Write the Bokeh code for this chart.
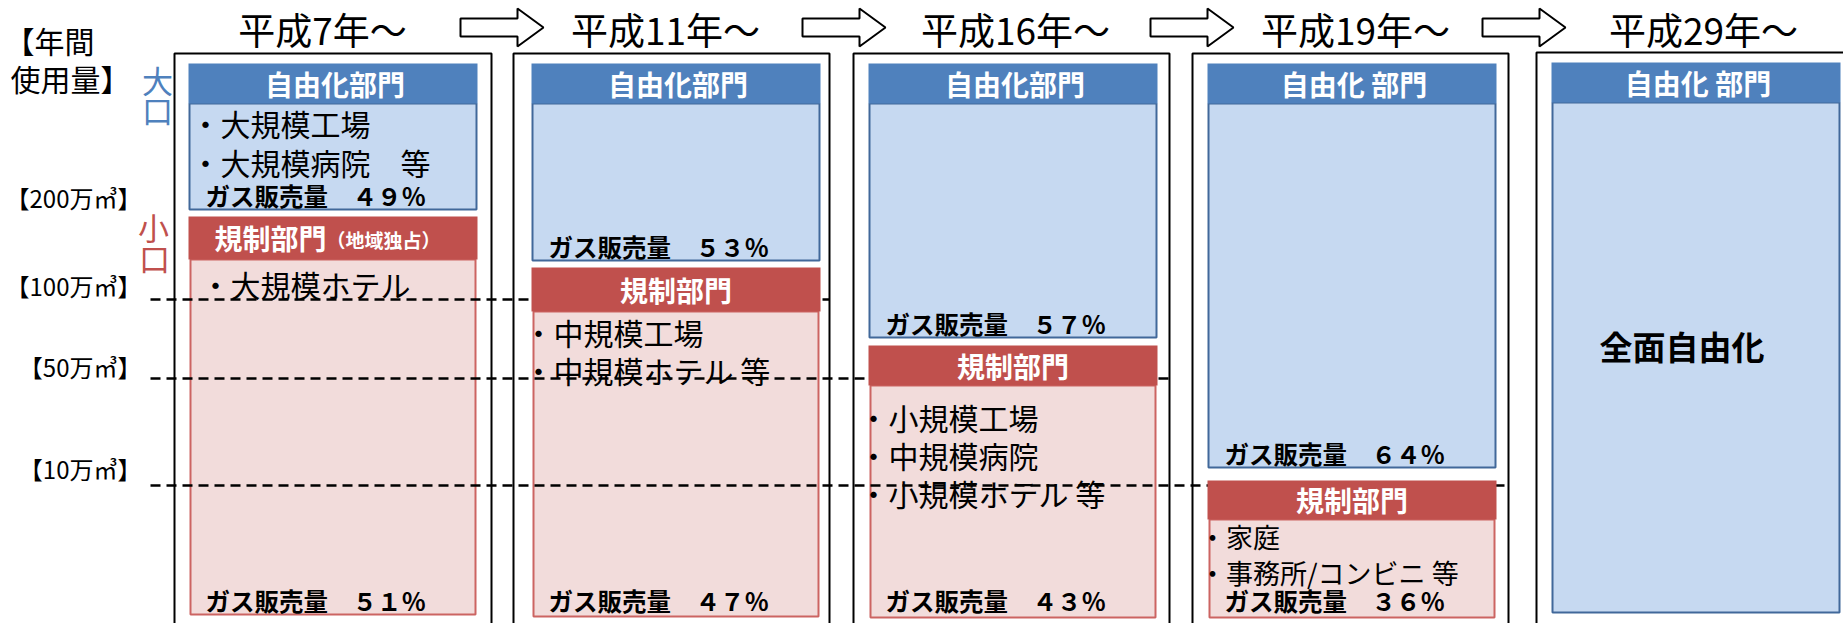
from bokeh.plotting import figure
from bokeh.models import Range1d
from bokeh.embed import file_html
from bokeh.resources import INLINE
from bokeh.core.properties import value

# ---------------- data ----------------
periods = ["平成7年～", "平成11年～", "平成16年～", "平成19年～", "平成29年～"]
lib_headers = ["自由化部門", "自由化部門", "自由化部門", "自由化 部門", "自由化 部門"]
reg_headers = ["規制部門", "規制部門", "規制部門", "規制部門"]
reg_header_note = "（地域独占）"
lib_share = [49, 53, 57, 64]
reg_share = [51, 47, 43, 36]
lib_items = [["・大規模工場", "・大規模病院　等"], [], [], []]
reg_items = [["・大規模ホテル"],
             ["・中規模工場", "・中規模ホテル 等"],
             ["・小規模工場", "・中規模病院", "・小規模ホテル 等"],
             ["・家庭", "・事務所/コンビニ 等"]]
full_lib_label = "全面自由化"
share_prefix = "ガス販売量　"
volume_labels = ["【200万㎥】", "【100万㎥】", "【50万㎥】", "【10万㎥】"]
axis_title = ["【年間", "使用量】"]
large_label = ["大", "口"]
small_label = ["小", "口"]

# ---------------- layout ----------------
W, H = 1843, 623
FONT = value("Noto Sans CJK JP")
panel_left = [174, 513, 853, 1192, 1536]
panel_right = [491, 829, 1169, 1508, 1870]
panel_top = [53, 53, 53, 53, 52]
hdr_left = [188, 531, 868, 1207, 1551]
hdr_w = 289
lib_hdr_top = [63, 63, 63, 63, 62]
lib_hdr_h = 40
lib_bottom = [209, 260, 337, 467, 612]
reg_hdr_top = [216, 267, 345, 480]
reg_hdr_h = [43, 44, 40, 39]
reg_bottom = [614, 616, 617, 617]
title_x = [322, 665, 1015, 1355, 1703]
title_y = 28
arrow_x0 = [460, 802, 1150, 1482]
arrow_len, arrow_head = 83, 26
arrow_y, shaft_half, head_half = 27, 9, 19
vol_y = [197, 285, 366, 468]
dash_y = [None, 299, 378, 485]
lib_item_dx, lib_item_y0, lib_item_dy = 17, 122, 39
reg_item_dx = [27, 7, 5, 5]
reg_item_y0 = [283, 331, 416, 536]
reg_item_dy = [38, 38, 38, 36]
reg_item_size = [30, 30, 30, 27]

BLUE_H, BLUE_F, BLUE_L = "#4F81BD", "#C6D9F1", "#41689A"
RED_H, RED_F, RED_L = "#C0504D", "#F2DCDB", "#CC6462"

p = figure(width=W, height=H, x_range=Range1d(0, W), y_range=Range1d(H, 0),
           output_backend="svg", toolbar_location=None, min_border=0,
           x_axis_type=None, y_axis_type=None, outline_line_color=None,
           background_fill_color="white", border_fill_color="white")
p.xgrid.visible = False
p.ygrid.visible = False

def txt(x, y, t, size, color="black", bold=False, align="left"):
    p.text(x=[x], y=[y], text=[t], text_font=FONT, text_font_size=f"{size}px",
           text_color=color, text_font_style="bold" if bold else "normal",
           text_align=align, text_baseline="middle")

# outer panel boxes
p.quad(left=panel_left, right=panel_right, top=panel_top, bottom=[H + 20] * 5,
       fill_color=None, line_color="black", line_width=2)

# liberalized bodies
n = len(periods)
p.quad(left=[hdr_left[i] + 1 for i in range(n)], right=[hdr_left[i] + hdr_w - 1 for i in range(n)],
       top=[lib_hdr_top[i] + lib_hdr_h for i in range(n)], bottom=lib_bottom,
       fill_color=BLUE_F, line_color=BLUE_L, line_width=2)
# regulated bodies
m = len(reg_headers)
p.quad(left=[hdr_left[i] + 2 for i in range(m)], right=[hdr_left[i] + hdr_w - 2 for i in range(m)],
       top=[reg_hdr_top[i] + reg_hdr_h[i] for i in range(m)], bottom=reg_bottom,
       fill_color=RED_F, line_color=RED_L, line_width=2)

# dashed threshold lines (each ends at the right edge of the panel of that threshold)
for k in range(1, len(volume_labels)):
    p.segment(x0=[150], y0=[dash_y[k]], x1=[panel_right[k]], y1=[dash_y[k]],
              line_color="black", line_width=2.5, line_dash="10 6")

# headers
p.quad(left=hdr_left, right=[x + hdr_w for x in hdr_left], top=lib_hdr_top,
       bottom=[t + lib_hdr_h for t in lib_hdr_top], fill_color=BLUE_H, line_color=None)
p.quad(left=hdr_left[:m], right=[x + hdr_w for x in hdr_left[:m]], top=reg_hdr_top,
       bottom=[reg_hdr_top[i] + reg_hdr_h[i] for i in range(m)], fill_color=RED_H, line_color=None)

for i in range(n):
    txt(hdr_left[i] + hdr_w / 2 + 2, lib_hdr_top[i] + lib_hdr_h / 2, lib_headers[i], 28, "white", True, "center")
for i in range(m):
    cy = reg_hdr_top[i] + reg_hdr_h[i] / 2
    if i == 0:
        txt(326, cy, reg_headers[i], 28, "white", True, "right")
        txt(326, cy + 1, reg_header_note, 19, "white", True, "left")
    else:
        txt(hdr_left[i] + hdr_w / 2, cy, reg_headers[i], 28, "white", True, "center")

# titles and arrows
for i in range(n):
    txt(title_x[i], title_y, periods[i], 37, align="center")
xs, ys = [], []
for x0 in arrow_x0:
    x1 = x0 + arrow_len
    xb = x1 - arrow_head
    xs.append([x0, xb, xb, x1, xb, xb, x0])
    ys.append([arrow_y - shaft_half, arrow_y - shaft_half, arrow_y - head_half, arrow_y,
               arrow_y + head_half, arrow_y + shaft_half, arrow_y + shaft_half])
p.patches(xs=xs, ys=ys, fill_color="white", line_color="black", line_width=2)

# full-width digits for share labels
FW = str.maketrans("0123456789", "０１２３４５６７８９")
def share_text(v):
    return share_prefix + str(v).translate(FW) + "％"

ITEM = 30
SHARE = 24.5
for i in range(m):
    for j, it in enumerate(lib_items[i]):
        txt(hdr_left[i] + lib_item_dx - ITEM / 2, lib_item_y0 + j * lib_item_dy, it, ITEM)
    txt(hdr_left[i] + 17, lib_bottom[i] - 14, share_text(lib_share[i]), SHARE, bold=True)
    fs = reg_item_size[i]
    for j, it in enumerate(reg_items[i]):
        txt(hdr_left[i] + reg_item_dx[i] - fs / 2, reg_item_y0[i] + j * reg_item_dy[i], it, fs)
    txt(hdr_left[i] + 17, 600, share_text(reg_share[i]), SHARE, bold=True)

txt(hdr_left[4] + hdr_w / 2 - 14, 345, full_lib_label, 33, bold=True, align="center")

# left-side labels
txt(4, 39, axis_title[0], 30)
txt(10, 77, axis_title[1], 30)
for k, lab in enumerate(volume_labels):
    txt(141, vol_y[k], lab, 24, align="right")
txt(157, 79, large_label[0], 31, BLUE_H, align="center")
txt(157, 109, large_label[1], 31, BLUE_H, align="center")
txt(153, 226, small_label[0], 31, RED_H, align="center")
txt(154, 257, small_label[1], 31, RED_H, align="center")

open("out.html", "w").write(file_html(p, INLINE))
